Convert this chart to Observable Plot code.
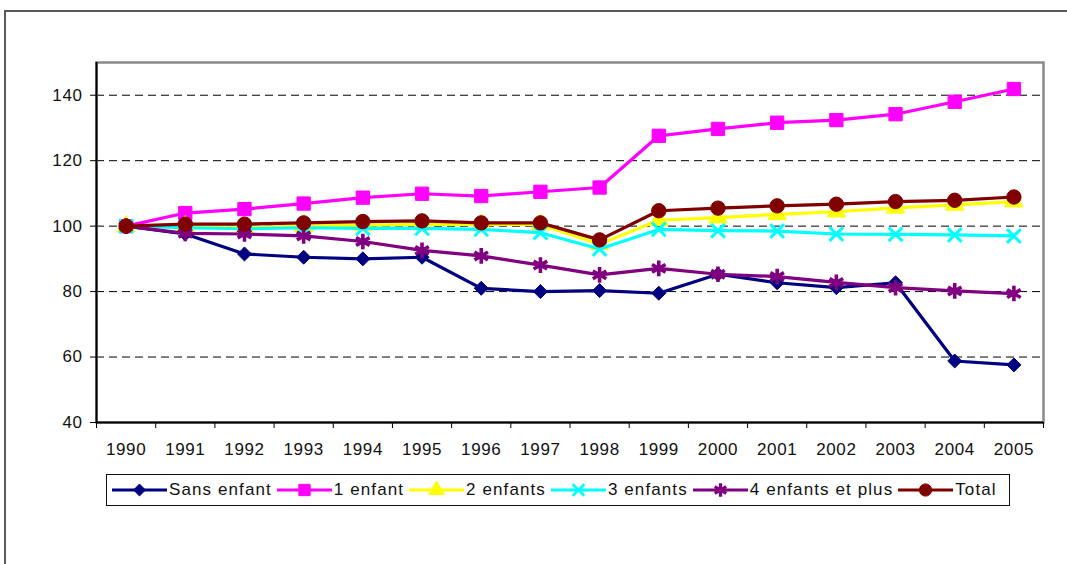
<!DOCTYPE html>
<html>
<head>
<meta charset="utf-8">
<script src="https://cdn.jsdelivr.net/npm/d3@7"></script>
<script src="https://cdn.jsdelivr.net/npm/@observablehq/plot@0.6"></script>
<style>
  html, body { margin: 0; padding: 0; background: #fff; overflow: hidden; width: 1067px; height: 564px; }
  body { font-family: "Liberation Sans", Arial, sans-serif; position: relative; }
  #frame { position: absolute; left: 4px; top: 10px; width: 1100px; height: 600px; border: 2px solid #5a5a5a; box-sizing: border-box; }
  #chart { position: absolute; left: 0; top: 0; }
  #legend {
    position: absolute; left: 106px; top: 474px; width: 904px; height: 32px;
    border: 1.5px solid #111; box-sizing: border-box; background: #fff;
    display: flex; align-items: center; padding-left: 5px;
    font-size: 17px; letter-spacing: 1.1px; color: #111; white-space: nowrap;
  }
  .item { display: flex; align-items: center; margin-right: 5px; }
  .item svg { margin-right: 2px; }
</style>
</head>
<body>
<div id="frame"></div>
<div id="chart"></div>
<div id="legend"></div>
<script>
// Index (base 100 in 1990) by number of children
const years = [1990, 1991, 1992, 1993, 1994, 1995, 1996, 1997, 1998, 1999, 2000, 2001, 2002, 2003, 2004, 2005];
const seriesNames = ["Sans enfant", "1 enfant", "2 enfants", "3 enfants", "4 enfants et plus", "Total"];
const sansEnfant   = [100, 97.6, 91.5, 90.5, 90.0, 90.5, 81.0, 80.0, 80.3, 79.5, 85.3, 82.7, 81.2, 82.7, 58.8, 57.6];
const unEnfant     = [100, 104.0, 105.2, 106.9, 108.7, 109.9, 109.2, 110.5, 111.8, 127.6, 129.7, 131.6, 132.4, 134.2, 138.0, 141.9];
const deuxEnfants  = [100, 100.0, 99.6, 100.0, 100.3, 100.5, 100.5, 100.5, 94.5, 101.8, 102.6, 103.6, 104.4, 105.6, 106.5, 107.5];
const troisEnfants = [100, 99.5, 99.2, 99.5, 99.3, 99.3, 99.0, 98.0, 93.0, 99.0, 98.6, 98.5, 97.6, 97.5, 97.3, 97.0];
const quatreEtPlus = [100, 97.8, 97.6, 97.0, 95.3, 92.6, 90.9, 88.1, 85.1, 87.1, 85.3, 84.6, 82.8, 81.2, 80.2, 79.4];
const total        = [100, 100.6, 100.6, 101.0, 101.4, 101.6, 101.0, 101.0, 95.8, 104.7, 105.5, 106.2, 106.7, 107.5, 107.9, 108.9];
const yTicks = [40, 60, 80, 100, 120, 140];

const seriesValues = [sansEnfant, unEnfant, deuxEnfants, troisEnfants, quatreEtPlus, total];

// Drawing style of each series (Excel classic palette and markers)
const styles = [
  {color: "#000080", symbol: "diamond2", r: 6.3, filled: true},
  {color: "#ff00ff", symbol: "square",   r: 7.5, filled: true},
  {color: "#ffff00", symbol: "triangle", r: 6.8, filled: true},
  {color: "#00ffff", symbol: "times",    r: 6.3, filled: false, sw: 3},
  {color: "#800080", symbol: "asterisk", r: 7.4, filled: false, sw: 3.6},
  {color: "#800000", symbol: "circle",   r: 7.2, filled: true}
];

// Long table: one row per year and series
const rows = seriesNames.flatMap((name, k) =>
  years.map((year, i) => ({series: name, year, value: seriesValues[k][i]}))
);

const x0 = years[0] - 0.5;
const x1 = years[years.length - 1] + 0.5;
const categoryEdges = [...years.map(y => y - 0.5), x1];

const seriesMarks = seriesNames.flatMap((name, k) => {
  const s = styles[k];
  const data = rows.filter(d => d.series === name);
  return [
    Plot.line(data, {x: "year", y: "value", stroke: s.color, strokeWidth: 3.2, strokeLinejoin: "round"}),
    Plot.dot(data, {
      x: "year", y: "value", symbol: s.symbol, r: s.r,
      fill: s.filled ? s.color : "none",
      stroke: s.color, strokeWidth: s.filled ? 1 : s.sw
    })
  ];
});

const chart = Plot.plot({
  width: 1067,
  height: 470,
  marginLeft: 96,
  marginRight: 24,
  marginTop: 62,
  marginBottom: 48,
  style: {fontFamily: "'Liberation Sans', Arial, sans-serif", fontSize: "17px", color: "#111", background: "transparent", letterSpacing: "0.6px"},
  x: {domain: [x0, x1]},
  y: {domain: [40, 150]},
  marks: [
    Plot.gridY(yTicks.filter(v => v > 40), {stroke: "#000", strokeOpacity: 1, strokeWidth: 1, strokeDasharray: "8,5"}),
    Plot.frame({stroke: "#8a8a8a", strokeWidth: 2.5}),
    Plot.ruleX([x0], {stroke: "#000", strokeWidth: 2}),
    Plot.ruleY([40], {stroke: "#000", strokeWidth: 2}),
    Plot.axisY(yTicks, {tickSize: 6, tickPadding: 8, label: null, stroke: "#000"}),
    Plot.axisX(categoryEdges, {tickSize: 6, tickFormat: () => "", label: null, stroke: "#000"}),
    Plot.axisX(years, {tickSize: 0, tickPadding: 20, tickFormat: d => String(d), label: null}),
    ...seriesMarks
  ]
});
document.getElementById("chart").append(chart);

// Legend: line-and-marker swatch followed by the series name
const legend = d3.select("#legend");
const symbolTypes = {
  diamond2: d3.symbolDiamond2, square: d3.symbolSquare, triangle: d3.symbolTriangle,
  times: d3.symbolTimes, asterisk: d3.symbolAsterisk, circle: d3.symbolCircle
};
seriesNames.forEach((name, k) => {
  const s = styles[k];
  const item = legend.append("div").attr("class", "item");
  const svg = item.append("svg").attr("width", 55).attr("height", 22);
  svg.append("line").attr("x1", 0).attr("x2", 55).attr("y1", 11).attr("y2", 11)
    .attr("stroke", s.color).attr("stroke-width", 3);
  const rr = s.r * 0.85;
  svg.append("path")
    .attr("transform", "translate(27.5,11)")
    .attr("d", d3.symbol(symbolTypes[s.symbol], Math.PI * rr * rr)())
    .attr("fill", s.filled ? s.color : "none")
    .attr("stroke", s.color)
    .attr("stroke-width", s.filled ? 1 : s.sw * 0.9);
  item.append("span").text(name);
});
</script>
</body>
</html>
